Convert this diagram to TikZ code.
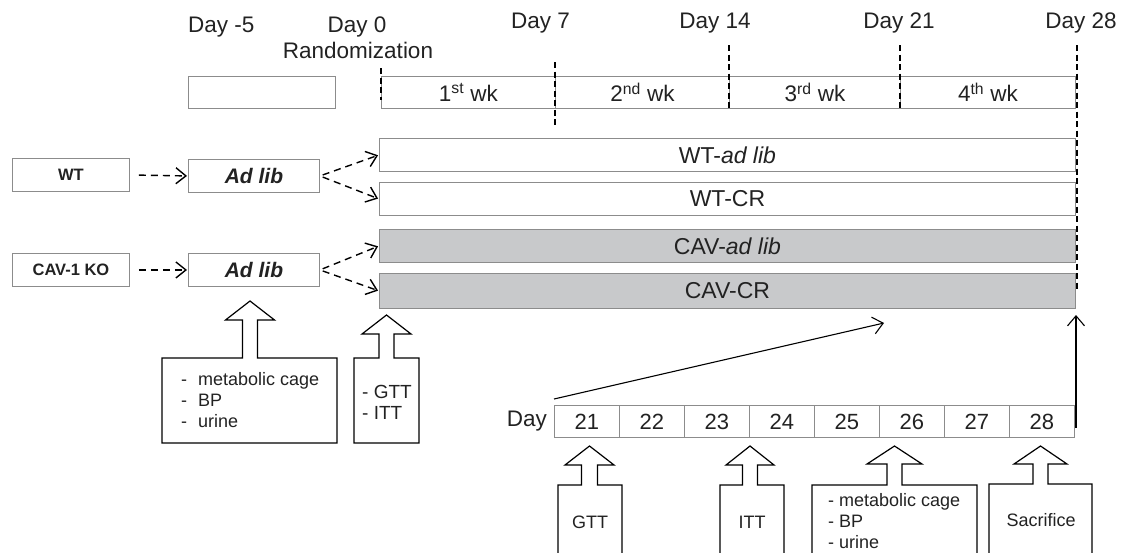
\documentclass[tikz,border=0pt]{standalone}
\usepackage{fontspec}
\setmainfont{Liberation Sans}
\usetikzlibrary{arrows.meta}
\definecolor{boxline}{HTML}{8C8C8C}
\definecolor{barfill}{HTML}{C8C9CB}
\definecolor{ink}{HTML}{222222}
\begin{document}
\begin{tikzpicture}[x=1pt,y=-1pt,
  every node/.style={text=ink},
  toplbl/.style={font=\fontsize{22.5}{26}\selectfont, inner sep=0pt},
  cellbox/.style={draw=boxline, line width=0.9pt, minimum height=32pt, inner sep=0pt, font=\fontsize{22.5}{26}\selectfont},
  barbox/.style={draw=boxline, line width=0.9pt, minimum width=696pt, minimum height=33pt, inner sep=0pt, anchor=north west, font=\fontsize{23}{27}\selectfont},
  grpbox/.style={draw=boxline, line width=0.9pt, minimum width=117pt, minimum height=33pt, inner sep=0pt, anchor=north west, font=\bfseries\fontsize{16.5}{19}\selectfont},
  dietbox/.style={draw=boxline, line width=0.9pt, minimum width=131pt, minimum height=33pt, inner sep=0pt, anchor=north west, font=\bfseries\itshape\fontsize{21}{25}\selectfont},
  daycell/.style={draw=boxline, line width=0.9pt, minimum width=65pt, minimum height=32pt, inner sep=0pt, anchor=north west, font=\fontsize{22}{26}\selectfont},
  vdash/.style={draw=black, line width=1.4pt, dash pattern=on 6pt off 3.5pt},
  dasharrow/.style={draw=black, line width=1.4pt, dash pattern=on 7pt off 5pt, -{Straight Barb[length=10pt,width=16pt,line width=1.4pt]}},
  thinarrow/.style={draw=black, line width=1.1pt, -{Straight Barb[length=10pt,width=17pt,line width=1.1pt]}},
  callout/.style={draw=black, line width=1.2pt, line join=miter},
  calltext/.style={inner sep=0pt, font=\fontsize{18}{21}\selectfont}]
\useasboundingbox (0,0) rectangle (1123,552);
\clip (0,0) rectangle (1123,552);

% timeline labels
\node[toplbl, anchor=base west] (lm5) at (188,32) {Day -5};
\node[toplbl, anchor=base] (l0) at (357,32) {Day 0};
\node[toplbl, anchor=base] (lrand) at (358,58) {Randomization};
\node[toplbl, anchor=base] (l7) at (540.5,28) {Day 7};
\node[toplbl, anchor=base] (l14) at (715,28) {Day 14};
\node[toplbl, anchor=base] (l21) at (899,28) {Day 21};
\node[toplbl, anchor=base] (l28) at (1081,28) {Day 28};

% pre-randomisation box and weeks
\node[cellbox, minimum width=147pt, anchor=north west] (pre) at (188,76) {};
\node[cellbox, minimum width=174pt, anchor=north west] (wk1) at (381,76) {1\textsuperscript{st} wk};
\node[cellbox, minimum width=174pt, anchor=north west] (wk2) at (555,76) {2\textsuperscript{nd} wk};
\node[cellbox, minimum width=171pt, anchor=north west] (wk3) at (729,76) {3\textsuperscript{rd} wk};
\node[cellbox, minimum width=175pt, anchor=north west] (wk4) at (900,76) {4\textsuperscript{th} wk};

% group bars
\node[barbox] (wtad) at (379,138) {WT-\textit{ad lib}};
\node[barbox] (wtcr) at (379,182) {WT-CR};
\node[barbox, fill=barfill] (cavad) at (379,229) {CAV-\textit{ad lib}};
\node[barbox, fill=barfill, minimum height=35pt] (cavcr) at (379,273) {CAV-CR};

% day markers
\draw[vdash] (381,68) -- (381,100);
\draw[vdash] (555,62) -- (555,125);
\draw[vdash] (729,45) -- (729,108);
\draw[vdash] (900,45) -- (900,108);
\draw[vdash] (1077,45) -- (1077,290);

% genotypes and acclimatisation
\node[grpbox] (wt) at (12,158) {WT};
\node[grpbox] (ko) at (12,253) {CAV-1 KO};
\node[dietbox] (ad1) at (188,159) {Ad lib};
\node[dietbox] (ad2) at (188,253) {Ad lib};

\draw[dasharrow, shorten <=9pt, shorten >=1pt] (wt.east) -- (ad1.west);
\draw[dasharrow, shorten <=9pt, shorten >=1pt] (ko.east) -- (ad2.west);
\draw[dasharrow, shorten <=3pt, shorten >=1pt] (ad1.east) -- (wtad.west);
\draw[dasharrow, shorten <=3pt, shorten >=1pt] (ad1.east) -- (wtcr.west);
\draw[dasharrow, shorten <=3pt, shorten >=1pt] (ad2.east) -- (cavad.west);
\draw[dasharrow, shorten <=3pt, shorten >=1pt] (ad2.east) -- (cavcr.west);

% measurements before and at randomisation
\draw[callout] (162,358) -- (162,443) -- (337,443) -- (337,358) -- (257.5,358) -- (257.5,320)
  -- (274.5,320) -- (250,301) -- (225.5,320) -- (242.5,320) -- (242.5,358) -- cycle;
\node[calltext, anchor=west] (base) at (181,402) {\begin{tabular}{@{}l@{\hspace{11pt}}l@{}}-&metabolic cage\\-&BP\\-&urine\end{tabular}};
\draw[callout] (354,358) -- (354,443) -- (419,443) -- (419,358) -- (394,358) -- (394,334)
  -- (411,334) -- (386.5,315) -- (362,334) -- (379,334) -- (379,358) -- cycle;
\node[calltext, anchor=west, align=left, font=\fontsize{19}{21}\selectfont] (rand) at (362,402.5) {- GTT\\- ITT};

% last week in detail
\node[toplbl, anchor=east] (dlbl) at (547,421) {Day};
\foreach \d [count=\i from 0] in {21,...,28}
  \node[daycell] (d\d) at ({554+\i*65},405) {\d};

\coordinate (zoomfrom) at (554,399);
\coordinate (zoomto) at (884,323);
\draw[thinarrow] (zoomfrom) -- (zoomto);
\coordinate (endfrom) at (1076,428);
\coordinate (endto) at (1076,315);
\draw[thinarrow] (endfrom) -- (endto);

% daily procedures
\draw[callout] (558,553) -- (558,485) -- (581.5,485) -- (581.5,465) -- (565,465) -- (589.5,446)
  -- (614,465) -- (597.5,465) -- (597.5,485) -- (622,485) -- (622,553);
\node[calltext] (gtt) at (590,522) {GTT};
\draw[callout] (720,553) -- (720,485) -- (742.5,485) -- (742.5,465) -- (726,465) -- (750,446)
  -- (774,465) -- (757.5,465) -- (757.5,485) -- (784,485) -- (784,553);
\node[calltext] (itt) at (752,522) {ITT};
\draw[callout] (812,553) -- (812,485) -- (887,485) -- (887,464) -- (867,464) -- (894.5,446)
  -- (922,464) -- (902,464) -- (902,485) -- (977,485) -- (977,553);
\node[calltext, anchor=west, align=left] (met) at (828,521) {- metabolic cage\\- BP\\- urine};
\draw[callout] (989,553) -- (989,484) -- (1033,484) -- (1033,464) -- (1014,464) -- (1040.5,446)
  -- (1067,464) -- (1048,464) -- (1048,484) -- (1092,484) -- (1092,553);
\node[calltext] (sac) at (1041,520) {Sacrifice};
\end{tikzpicture}
\end{document}
